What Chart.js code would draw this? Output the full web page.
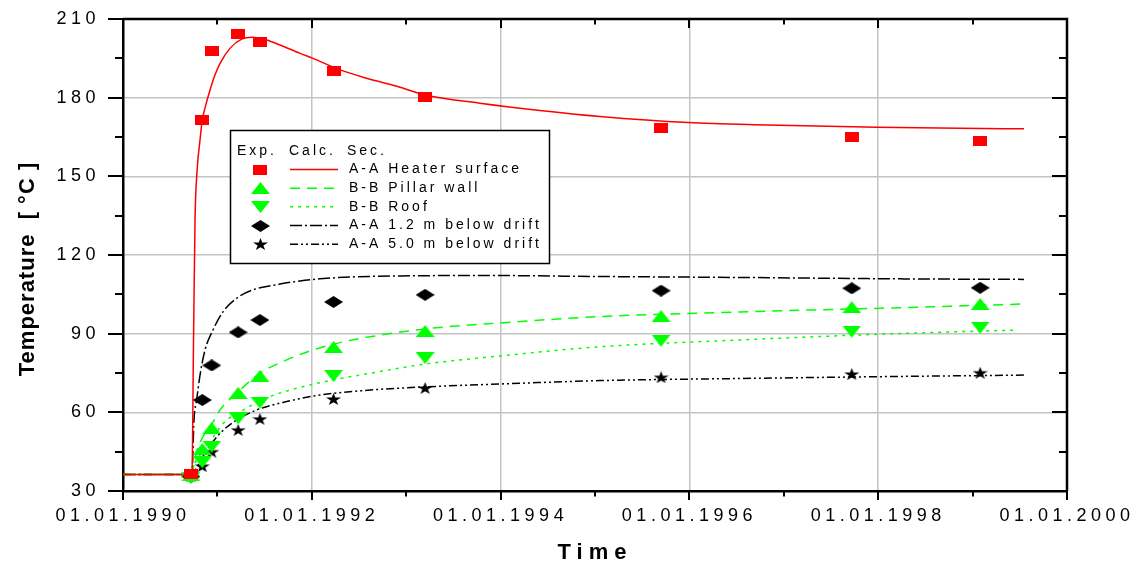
<!DOCTYPE html>
<html><head><meta charset="utf-8">
<script src="https://cdn.jsdelivr.net/npm/chart.js@4.4.1/dist/chart.umd.min.js"></script>
<style>html,body{margin:0;padding:0;background:#fff;}canvas{display:block;}</style>
</head><body>
<canvas id="c" width="1136" height="568"></canvas>
<script>
// ---------------- data ----------------
const xMajorTicks = [1990, 1992, 1994, 1996, 1998, 2000];
const yMajorTicks = [30, 60, 90, 120, 150, 180, 210];
const xTitle = 'Time';
const yTitle = 'Temperature  [ °C ]';
const legendHeader = ['Exp.', 'Calc.', 'Sec.'];
const seriesNames = ['A-A Heater surface', 'B-B Pillar wall', 'B-B Roof', 'A-A 1.2 m below drift', 'A-A 5.0 m below drift'];

// experimental (measured) values
const expYears   = [1990.72, 1990.84, 1990.94, 1991.22, 1991.45, 1992.23, 1993.20, 1995.70, 1997.72, 1999.08];
const heaterExp  = [36.5, 171.5, 197.8, 204.3, 201.2, 190.2, 180.3, 168.4, 165.0, 163.5];
const pillarExp  = [36.0, 46.0, 54.0, 67.4, 73.9, 84.9, 91.0, 96.7, 100.1, 101.3];
const roofExp    = [35.0, 41.0, 46.9, 57.7, 63.7, 73.9, 80.7, 87.3, 90.8, 92.3];
const drift12Exp = [35.5, 64.7, 77.9, 90.5, 95.2, 102.1, 104.8, 106.4, 107.3, 107.5];
const drift50Exp = [35.8, 39.5, 45.0, 53.3, 57.5, 65.1, 69.3, 73.4, 74.6, 75.1];

// calculated curves
const heaterCalcYears = [1990.0, 1990.72, 1990.731, 1990.746, 1990.763, 1990.784, 1990.816, 1990.840, 1990.869, 1990.922, 1990.975, 1991.028, 1991.133, 1991.257, 1991.363, 1991.522, 1991.663, 1991.875, 1992.013, 1992.299, 1992.582, 1992.934, 1993.199, 1993.782, 1994.417, 1995.053, 1995.985, 1996.822, 1997.987, 1998.867, 1999.545];
const heaterCalc      = [36.3, 36.3, 36.9, 83.8, 133.4, 151.7, 163.9, 171.5, 176.1, 182.9, 188.7, 193.1, 198.8, 202.3, 203.0, 202.0, 200.1, 196.9, 195.0, 190.6, 187.4, 184.0, 181.0, 177.9, 175.1, 172.8, 170.5, 169.6, 168.7, 168.3, 168.1];

const pillarCalcYears = [1990.0, 1990.72, 1990.784, 1990.869, 1990.953, 1991.028, 1991.204, 1991.451, 1991.734, 1992.015, 1992.333, 1992.617, 1993.199, 1993.994, 1995.053, 1996.536, 1998.019, 1999.523];
const pillarCalc      = [36.3, 36.3, 45.6, 52.1, 56.3, 60.9, 67.3, 74.9, 80.0, 83.8, 86.9, 88.8, 91.8, 94.1, 96.5, 98.3, 99.7, 101.3];

const roofCalcYears = [1990.0, 1990.72, 1990.744, 1990.816, 1990.887, 1991.062, 1991.274, 1991.557, 1991.910, 1992.264, 1992.617, 1993.199, 1993.994, 1995.053, 1996.536, 1998.019, 1999.481];
const roofCalc      = [36.3, 36.3, 39.3, 43.7, 46.9, 55.8, 60.9, 66.0, 69.8, 72.6, 74.9, 78.4, 81.5, 85.0, 87.6, 89.8, 91.4];

const drift12CalcYears = [1990.0, 1990.72, 1990.731, 1990.752, 1990.780, 1990.816, 1990.869, 1990.953, 1991.059, 1991.208, 1991.377, 1991.663, 1991.875, 1992.087, 1992.405, 1992.934, 1993.782, 1995.053, 1996.642, 1998.231, 1999.545];
const drift12Calc      = [36.3, 36.3, 36.8, 57.1, 64.7, 74.2, 83.8, 91.4, 98.3, 103.6, 106.7, 108.9, 110.1, 110.9, 111.6, 112.0, 112.2, 111.8, 111.4, 110.9, 110.7];

const drift50CalcYears = [1990.0, 1990.72, 1990.763, 1990.887, 1991.028, 1991.204, 1991.416, 1991.734, 1992.087, 1992.617, 1993.199, 1993.994, 1995.053, 1996.536, 1998.019, 1999.545];
const drift50Calc      = [36.3, 36.3, 38.0, 45.6, 52.0, 57.1, 60.9, 64.1, 66.6, 68.5, 69.7, 70.8, 72.1, 72.9, 73.6, 74.2];

// ---------------- helpers ----------------
const RED = '#ff0000', GREEN = '#00ff00', BLACK = '#000000';
const FONT = "'Liberation Sans', Arial, sans-serif";
const pairs = (xs, ys) => xs.map((x, i) => ({x: x, y: ys[i]}));

function marker(w, h, color, draw) {
  const c = document.createElement('canvas');
  c.width = w; c.height = h;
  const g = c.getContext('2d');
  g.fillStyle = color;
  g.beginPath();
  draw(g, w, h);
  g.fill();
  return c;
}
const mSquare = marker(14, 10, RED, (g, w, h) => g.rect(0, 0, w, h));
const mUp = marker(19, 12, GREEN, (g, w, h) => { g.moveTo(w / 2, 0); g.lineTo(w, h); g.lineTo(0, h); g.closePath(); });
const mDown = marker(19, 12, GREEN, (g, w, h) => { g.moveTo(0, 0); g.lineTo(w, 0); g.lineTo(w / 2, h); g.closePath(); });
const mDiamond = marker(19, 12, BLACK, (g, w, h) => { g.moveTo(w / 2, 0); g.lineTo(w, h / 2); g.lineTo(w / 2, h); g.lineTo(0, h / 2); g.closePath(); });
const mStar = marker(15, 12, BLACK, (g, w, h) => {
  for (let i = 0; i < 10; i++) {
    const r = i % 2 === 0 ? 1 : 0.382;
    const a = -Math.PI / 2 + i * Math.PI / 5;
    const px = (Math.cos(a) * r + 0.951) / 1.902 * w;
    const py = (Math.sin(a) * r + 1) / 1.809 * h;
    if (i === 0) g.moveTo(px, py); else g.lineTo(px, py);
  }
  g.closePath();
});

// linear scale with letter-spaced text
const SPACING = {x: {ticks: '4.5px', title: '6px', shift: 0}, y: {ticks: '4.5px', title: '1px', shift: 14}};
class SpacedLinearScale extends Chart.LinearScale {
  drawLabels(area) {
    const ctx = this.ctx; ctx.save();
    ctx.letterSpacing = (SPACING[this.id] || {}).ticks || '0px';
    super.drawLabels(area); ctx.restore();
  }
  drawTitle() {
    const ctx = this.ctx; ctx.save();
    const sp = SPACING[this.id] || {};
    ctx.letterSpacing = sp.title || '0px';
    ctx.translate(0, sp.shift || 0);
    super.drawTitle(); ctx.restore();
  }
}
SpacedLinearScale.id = 'spacedLinear';
SpacedLinearScale.defaults = Chart.LinearScale.defaults;
Chart.register(SpacedLinearScale);

// frame + inside/minor tick marks, drawn from the scales
const frameTicks = {
  id: 'frameTicks',
  afterDatasetsDraw(chart) {
    const {ctx, chartArea: a, scales: {x, y}} = chart;
    ctx.save();
    ctx.strokeStyle = BLACK;
    ctx.lineWidth = 2.5;
    ctx.beginPath();
    ctx.moveTo(a.left, a.top); ctx.lineTo(a.right, a.top); ctx.lineTo(a.right, a.bottom);
    ctx.stroke();
    ctx.lineWidth = 2;
    ctx.beginPath();
    for (let i = 0; i < xMajorTicks.length; i++) {
      const vals = [[xMajorTicks[i], 9]];
      if (i < xMajorTicks.length - 1) vals.push([(xMajorTicks[i] + xMajorTicks[i + 1]) / 2, 5.5]);
      for (const [v, L] of vals) {
        const px = Math.round(x.getPixelForValue(v));
        ctx.moveTo(px, a.bottom); ctx.lineTo(px, a.bottom + L);
        ctx.moveTo(px, a.top); ctx.lineTo(px, a.top + L);
      }
    }
    for (let i = 0; i < yMajorTicks.length; i++) {
      const vals = [[yMajorTicks[i], 15]];
      if (i < yMajorTicks.length - 1) vals.push([(yMajorTicks[i] + yMajorTicks[i + 1]) / 2, 8]);
      for (const [v, L] of vals) {
        const py = Math.round(y.getPixelForValue(v));
        ctx.moveTo(a.left - L, py); ctx.lineTo(a.left, py);
        ctx.moveTo(a.right - L, py); ctx.lineTo(a.right, py);
      }
    }
    ctx.stroke();
    ctx.restore();
  }
};

// custom legend: Exp. marker + Calc. line + section text
const legendBox = {
  id: 'legendBox',
  afterDraw(chart) {
    const ctx = chart.ctx;
    const box = {l: 230.5, t: 130.5, r: 549.5, b: 263.5};
    const rowsY = [169.5, 188.3, 206.8, 225.6, 244.3];
    ctx.save();
    ctx.fillStyle = '#fff';
    ctx.fillRect(box.l, box.t, box.r - box.l, box.b - box.t);
    ctx.strokeStyle = BLACK; ctx.lineWidth = 1.5;
    ctx.strokeRect(box.l, box.t, box.r - box.l, box.b - box.t);
    ctx.font = '14px ' + FONT;
    ctx.letterSpacing = '3px';
    ctx.fillStyle = BLACK;
    ctx.textBaseline = 'middle';
    ctx.textAlign = 'left';
    const hx = [237, 289, 347];
    legendHeader.forEach((t, i) => ctx.fillText(t, hx[i], 151));
    const ds = chart.data.datasets;
    for (let i = 0; i < seriesNames.length; i++) {
      const exp = ds[i], calc = ds[i + 5];
      const yy = rowsY[i];
      const img = exp.pointStyle;
      ctx.drawImage(img, Math.round(260 - img.width / 2), Math.round(yy - img.height / 2));
      ctx.save();
      ctx.strokeStyle = calc.borderColor;
      ctx.lineWidth = calc.borderWidth;
      ctx.setLineDash(calc.borderDash || []);
      ctx.beginPath(); ctx.moveTo(290, yy); ctx.lineTo(338, yy); ctx.stroke();
      ctx.restore();
      ctx.fillText(seriesNames[i], 349, yy);
    }
    ctx.restore();
  }
};

const expDs = (label, ys, img) => ({
  label: label + ' (Exp.)', data: pairs(expYears, ys), showLine: false,
  pointStyle: img, pointRadius: 6, pointHoverRadius: 6, order: 0
});
const calcDs = (label, xs, ys, color, dash) => ({
  label: label + ' (Calc.)', data: pairs(xs, ys), showLine: true, borderColor: color,
  borderWidth: 1.5, borderDash: dash, pointRadius: 0, fill: false,
  cubicInterpolationMode: 'monotone', order: 1
});

Chart.defaults.font.family = FONT;
Chart.defaults.color = BLACK;

new Chart(document.getElementById('c'), {
  type: 'scatter',
  data: {
    datasets: [
      expDs(seriesNames[0], heaterExp, mSquare),
      expDs(seriesNames[1], pillarExp, mUp),
      expDs(seriesNames[2], roofExp, mDown),
      expDs(seriesNames[3], drift12Exp, mDiamond),
      expDs(seriesNames[4], drift50Exp, mStar),
      calcDs(seriesNames[0], heaterCalcYears, heaterCalc, RED, []),
      calcDs(seriesNames[1], pillarCalcYears, pillarCalc, GREEN, [10, 7]),
      calcDs(seriesNames[2], roofCalcYears, roofCalc, GREEN, [3, 5]),
      calcDs(seriesNames[3], drift12CalcYears, drift12Calc, BLACK, [12, 3, 2, 3]),
      calcDs(seriesNames[4], drift50CalcYears, drift50Calc, BLACK, [8, 3, 2, 3, 2, 3])
    ]
  },
  options: {
    responsive: false,
    animation: false,
    devicePixelRatio: 1,
    layout: {padding: {left: 0, top: 19, right: 69, bottom: 0}},
    plugins: {legend: {display: false}, tooltip: {enabled: false}},
    scales: {
      x: {
        type: 'spacedLinear', position: 'bottom',
        min: xMajorTicks[0], max: xMajorTicks[xMajorTicks.length - 1],
        afterBuildTicks: s => { s.ticks = xMajorTicks.map(v => ({value: v})); },
        afterFit: s => { s.height = 77; s.paddingLeft = 0; s.paddingRight = 0; },
        ticks: {font: {size: 18}, padding: 14, maxRotation: 0, autoSkip: false,
                callback: v => '01.01.' + v},
        grid: {drawTicks: false, lineWidth: 1.5,
               color: c => (c.tick && (c.tick.value === xMajorTicks[0] || c.tick.value === xMajorTicks[xMajorTicks.length - 1])) ? 'rgba(0,0,0,0)' : '#c4c4c4'},
        border: {display: true, color: BLACK, width: 2.5},
        title: {display: true, text: xTitle, font: {size: 22, weight: 'bold'}, padding: {top: 0, bottom: 2}}
      },
      y: {
        type: 'spacedLinear', position: 'left',
        min: yMajorTicks[0], max: yMajorTicks[yMajorTicks.length - 1],
        afterBuildTicks: s => { s.ticks = yMajorTicks.map(v => ({value: v})); },
        afterFit: s => { s.width = 123; s.paddingTop = 0; s.paddingBottom = 0; },
        ticks: {font: {size: 18}, padding: 23, autoSkip: false},
        grid: {drawTicks: false, lineWidth: 1.5,
               color: c => (c.tick && (c.tick.value === yMajorTicks[0] || c.tick.value === yMajorTicks[yMajorTicks.length - 1])) ? 'rgba(0,0,0,0)' : '#c4c4c4'},
        border: {display: true, color: BLACK, width: 2.5},
        title: {display: true, text: yTitle, font: {size: 22, weight: 'bold'}, padding: {top: 15, bottom: 0}}
      }
    }
  },
  plugins: [frameTicks, legendBox]
});
</script>
</body></html>
